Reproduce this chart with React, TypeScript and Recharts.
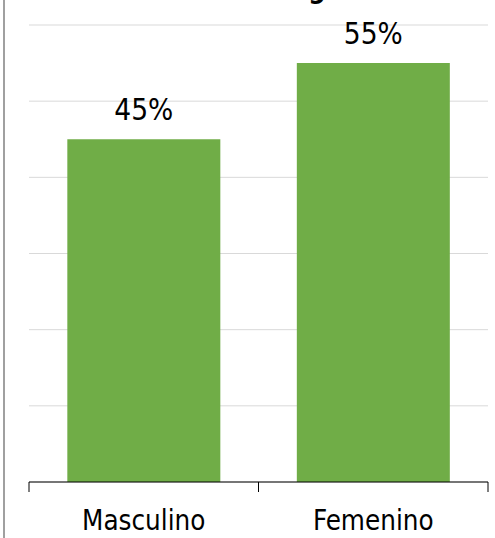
import React from "react";
import {
  BarChart,
  Bar,
  XAxis,
  YAxis,
  CartesianGrid,
  LabelList,
} from "recharts";

const categories = ["Masculino", "Femenino"];
const shares = [0.45, 0.55];
const yTicks = [0, 0.1, 0.2, 0.3, 0.4, 0.5, 0.6];

const data = categories.map((name, i) => ({ name, value: shares[i] }));

const FONT = '"DejaVu Sans Condensed", "DejaVu Sans", sans-serif';

// Excel-style category axis: tick marks on the band edges, label centred
const CategoryTick = (props: any) => {
  const { x, y, payload, index, visibleTicksCount } = props;
  const half = payload && payload.offset ? payload.offset : 0;
  const last = index === visibleTicksCount - 1;
  return (
    <g>
      <line x1={x - half} x2={x - half} y1={y} y2={y + 10} stroke="#000" />
      {last && (
        <line x1={x + half} x2={x + half} y1={y} y2={y + 10} stroke="#000" />
      )}
      <text
        x={x}
        y={y + 48}
        textAnchor="middle"
        fill="#000"
        fontSize={27.5}
        fontFamily={FONT}
      >
        {payload.value}
      </text>
    </g>
  );
};

export default function App() {
  return (
    <div
      style={{
        position: "absolute",
        left: 0,
        top: 0,
        width: 495,
        height: 538,
        overflow: "hidden",
        background: "#fff",
      }}
    >
      <div
        style={{
          position: "absolute",
          left: 166,
          top: -27,
          fontFamily: FONT,
          fontWeight: "bold",
          fontSize: 27,
          color: "#000",
          whiteSpace: "nowrap",
        }}
      >
        Sexo biológico
      </div>
      <div
        style={{
          position: "absolute",
          left: 3,
          top: 0,
          width: 2,
          height: 538,
          background: "#a0a0a0",
        }}
      />
      <BarChart
        width={495}
        height={538}
        data={data}
        margin={{ top: 25, right: 7, left: 29, bottom: 0 }}
        barCategoryGap="16.7%"
      >
        <CartesianGrid vertical={false} stroke="#d9d9d9" strokeWidth={1} />
        <YAxis hide domain={[0, 0.6]} ticks={yTicks} />
        <XAxis
          dataKey="name"
          height={56}
          axisLine={{ stroke: "#000" }}
          tickLine={false}
          tickSize={0}
          tickMargin={0}
          tick={<CategoryTick />}
        />
        <Bar dataKey="value" fill="#70ad47" isAnimationActive={false}>
          <LabelList
            dataKey="value"
            position="top"
            offset={19}
            formatter={(v: number) => `${Math.round(v * 100)}%`}
            style={{ fill: "#000", fontSize: 29.5, fontFamily: FONT }}
          />
        </Bar>
      </BarChart>
    </div>
  );
}
